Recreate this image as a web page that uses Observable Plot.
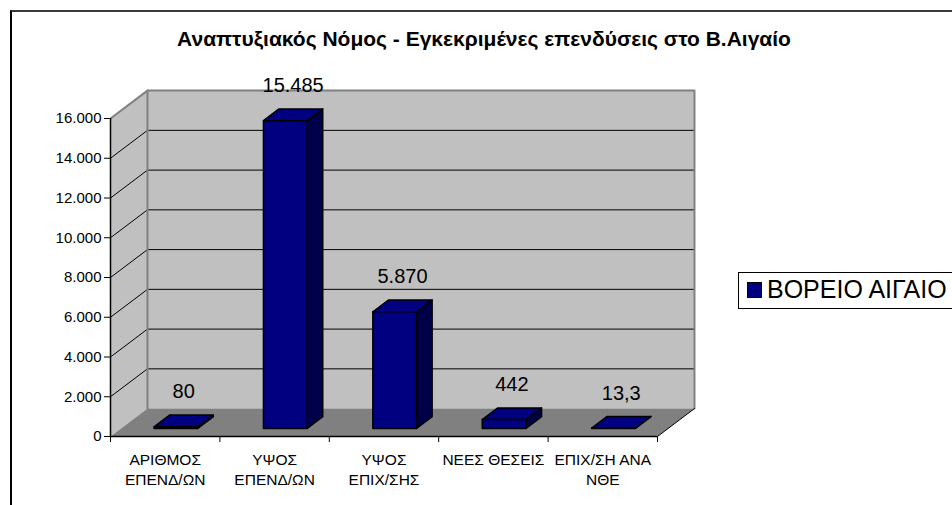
<!DOCTYPE html>
<html>
<head>
<meta charset="utf-8">
<script src="https://cdn.jsdelivr.net/npm/d3@7"></script>
<script src="https://cdn.jsdelivr.net/npm/@observablehq/plot@0.6"></script>
<style>
  html, body { margin: 0; padding: 0; background: #fff; }
  #page { position: relative; width: 952px; height: 505px; overflow: hidden; font-family: "Liberation Sans", Arial, sans-serif; }
  #frame { position: absolute; left: 10px; top: 10px; width: 1200px; height: 800px; border-left: 2px solid #000; border-top: 2px solid #3a3a3a; }
  #chart { position: absolute; left: 0; top: 0; }
  #title { position: absolute; left: 0; width: 968px; top: 28px; text-align: center; font-weight: bold; font-size: 21px; line-height: 21px; color: #000; white-space: nowrap; }
  #legend { position: absolute; left: 738px; top: 272px; width: 300px; height: 35px; border: 1px solid #000; background: #fff; }
  #legend .sw { position: absolute; left: 8px; top: 9px; width: 13px; height: 14px; border: 1px solid #000; background: #000080; }
  #legend .lb { position: absolute; left: 28px; top: 4px; font-size: 25px; line-height: 25px; white-space: nowrap; color: #000; }
</style>
</head>
<body>
<div id="page">
  <div id="frame"></div>
  <div id="chart"></div>
  <div id="title"></div>
  <div id="legend"><div class="sw"></div><div class="lb"></div></div>
</div>
<script>
// ---- data ----
const chartTitle = "Αναπτυξιακός Νόμος - Εγκεκριμένες επενδύσεις στο Β.Αιγαίο";
const seriesName = "ΒΟΡΕΙΟ ΑΙΓΑΙΟ";
const categories = ["ΑΡΙΘΜΟΣ\nΕΠΕΝΔ/ΩΝ", "ΥΨΟΣ\nΕΠΕΝΔ/ΩΝ", "ΥΨΟΣ\nΕΠΙΧ/ΣΗΣ", "ΝΕΕΣ ΘΕΣΕΙΣ", "ΕΠΙΧ/ΣΗ ΑΝΑ\nΝΘΕ"];
const values = [80, 15485, 5870, 442, 13.3];
const valueLabels = ["80", "15.485", "5.870", "442", "13,3"];
const yTicks = [0, 2000, 4000, 6000, 8000, 10000, 12000, 14000, 16000];

document.getElementById("title").textContent = chartTitle;
document.querySelector("#legend .lb").textContent = seriesName;

// ---- 3D oblique geometry (in data units) ----
const N = categories.length;
const YMAX = 16000;
const DX = 0.338;   // depth shift in category units
const DY = 1404;    // depth shift in value units
const f0 = 0.29, f1 = 0.71, w = f1 - f0;   // bar depth span
const b0 = 0.3, b1 = 0.7;                   // bar span within category

const gr = d3.formatLocale({decimal: ",", thousands: ".", grouping: [3], currency: ["", "€"]});
const fmt = gr.format(",");

function poly(id, pts) { return pts.map(([x, y]) => ({id, x, y})); }

const leftWall = poly("lw", [[0, 0], [0, YMAX], [DX, YMAX + DY], [DX, DY]]);
const backWall = poly("bw", [[DX, DY], [N + DX, DY], [N + DX, YMAX + DY], [DX, YMAX + DY]]);
const floor = poly("fl", [[0, 0], [N, 0], [N + DX, DY], [DX, DY]]);

const gridBack = [], gridSide = [];
yTicks.filter(t => t > 0 && t < YMAX).forEach(t => {
  gridBack.push(...poly("b" + t, [[DX, t + DY], [N + DX, t + DY]]));
  gridSide.push(...poly("s" + t, [[0, t], [DX, t + DY]]));
});
const wallEdges = [
  ...poly("e1", [[0, YMAX], [DX, YMAX + DY], [N + DX, YMAX + DY], [N + DX, DY]]),
  ...poly("e2", [[DX, DY], [DX, YMAX + DY]])
];
const floorEdge = poly("fe", [[N, 0], [N + DX, DY]]);

const fronts = [], tops = [], sides = [];
values.forEach((v, i) => {
  const x0 = i + b0 + f0 * DX, x1 = i + b1 + f0 * DX;
  const yb = f0 * DY, yt = v + f0 * DY;
  fronts.push(...poly("f" + i, [[x0, yb], [x1, yb], [x1, yt], [x0, yt]]));
  tops.push(...poly("t" + i, [[x0, yt], [x1, yt], [x1 + w * DX, yt + w * DY], [x0 + w * DX, yt + w * DY]]));
  sides.push(...poly("s" + i, [[x1, yb], [x1, yt], [x1 + w * DX, yt + w * DY], [x1 + w * DX, yb + w * DY]]));
});

const labelData = values.map((v, i) => ({x: i + 0.5 + 0.5 * DX, y: v, t: valueLabels[i]}));
const catData = categories.map((c, i) => ({x: i + 0.5, y: 0, t: c}));

const chart = Plot.plot({
  width: 952,
  height: 505,
  marginLeft: 110,
  marginRight: 295,
  marginTop: 118,
  marginBottom: 69,
  style: {fontFamily: "'Liberation Sans', Arial, sans-serif", fontSize: "15px", background: "transparent", color: "#000", overflow: "visible"},
  x: {type: "linear", domain: [0, N], ticks: d3.range(N + 1), tickFormat: () => "", tickSize: 6, label: null},
  y: {domain: [0, YMAX], ticks: yTicks, tickFormat: fmt, tickSize: 6, tickPadding: 3, label: null},
  marks: [
    Plot.line(leftWall, {x: "x", y: "y", z: "id", curve: "linear-closed", fill: "#c0c0c0", stroke: "none"}),
    Plot.line(backWall, {x: "x", y: "y", z: "id", curve: "linear-closed", fill: "#c0c0c0", stroke: "none"}),
    Plot.line(floor, {x: "x", y: "y", z: "id", curve: "linear-closed", fill: "#808080", stroke: "none"}),
    Plot.line(gridBack, {x: "x", y: "y", z: "id", stroke: "#000", strokeWidth: 1}),
    Plot.line(gridSide, {x: "x", y: "y", z: "id", stroke: "#000", strokeWidth: 1}),
    Plot.line(wallEdges, {x: "x", y: "y", z: "id", stroke: "#808080", strokeWidth: 2}),
    Plot.line(floorEdge, {x: "x", y: "y", z: "id", stroke: "#000", strokeWidth: 1}),
    Plot.ruleX([0], {stroke: "#000", strokeWidth: 1.5}),
    Plot.ruleY([0], {stroke: "#000", strokeWidth: 1.5}),
    Plot.line(sides, {x: "x", y: "y", z: "id", curve: "linear-closed", fill: "#000048", stroke: "#000", strokeWidth: 1.5, strokeLinejoin: "round"}),
    Plot.line(tops, {x: "x", y: "y", z: "id", curve: "linear-closed", fill: "#000080", stroke: "#000", strokeWidth: 1.5, strokeLinejoin: "round"}),
    Plot.line(fronts, {x: "x", y: "y", z: "id", curve: "linear-closed", fill: "#000080", stroke: "#000", strokeWidth: 1.5, strokeLinejoin: "round"}),
    Plot.text(labelData, {x: "x", y: "y", text: "t", dy: -43, fontSize: 20, fill: "#000"}),
    Plot.text(catData, {x: "x", y: "y", text: "t", dy: 13.4, lineAnchor: "top", lineHeight: 1.333, fontSize: 15.5, fill: "#000"})
  ]
});
document.getElementById("chart").appendChild(chart);
</script>
</body>
</html>
